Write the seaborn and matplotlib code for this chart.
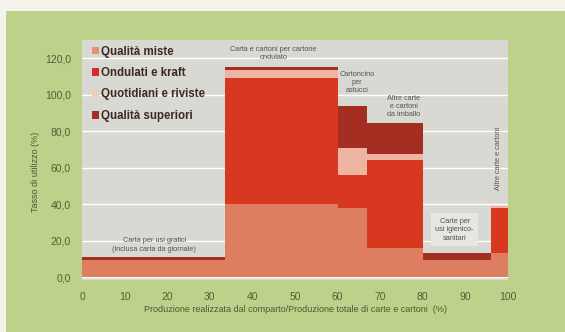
import matplotlib
matplotlib.use("Agg")
from matplotlib import pyplot as plt
from matplotlib.patches import Patch, Rectangle
import seaborn as sns

# comparti (larghezza = quota di produzione, %)
settori = ["Carta per usi grafici", "Carte e cartoni per cartone ondulato",
           "Cartoncino per astucci", "Altre carte e cartoni da imballo",
           "Carte per usi igienico-sanitari", "Altre carte e cartoni"]
inizio = [0, 33.5, 60, 67, 80, 96]
quota = [33.5, 26.5, 7, 13, 16, 4]

# tasso di utilizzo per qualità di macero (%)
miste = [9.5, 40, 38, 16, 9.3, 13]
ondulati = [0, 69, 18, 48, 0, 25]
quotidiani = [0, 4.5, 15, 3.5, 0, 1]
superiori = [1.5, 1.5, 23, 17, 3.7, 0]

serie = ["Qualità miste", "Ondulati e kraft", "Quotidiani e riviste", "Qualità superiori"]
valori = [miste, ondulati, quotidiani, superiori]
colori = ["#dc7e5f", "#d7381f", "#eeb6a2", "#a52e22"]
colori_leg = ["#e8906e", "#d42a30", "#f1cdb8", "#a03028"]

yticks = [0, 20, 40, 60, 80, 100, 120]
xticks = [0, 10, 20, 30, 40, 50, 60, 70, 80, 90, 100]

sns.set_style("white")
plt.rcParams['font.family'] = ['Liberation Sans', 'DejaVu Sans']

fig = plt.figure(figsize=(5.65, 3.32), dpi=100)
fig.patch.set_facecolor("#f6f2ec")
fig.patches.append(Rectangle((6 / 565, 0), 1, 1 - 11 / 332, transform=fig.transFigure,
                             facecolor="#bdd18a", edgecolor="none", zorder=-10))

ax = fig.add_axes([82 / 565, 1 - 280 / 332, 426 / 565, 240 / 332])
ax.set_zorder(2)
ax.set_facecolor("#d8d9d2")

base = [0] * len(settori)
for nome, v, c in zip(serie, valori, colori):
    ax.bar(inizio, v, width=quota, bottom=base, align="edge", color=c,
           edgecolor="none", zorder=3, label=nome)
    base = [b + x for b, x in zip(base, v)]

ax.set_xlim(0, 100)
ax.set_ylim(-1.6, 130)
ax.set_yticks(yticks)
ax.set_yticklabels([f"{t:.1f}".replace(".", ",") for t in yticks])
ax.set_xticks(xticks)
ax.grid(axis="y", color="white", linewidth=1, zorder=1)
ax.grid(axis="x", visible=False)
for s in ax.spines.values():
    s.set_visible(False)
ax.tick_params(axis="y", length=5, color="white", pad=3, labelsize=7.5, labelcolor="#506035")
ax.tick_params(axis="x", length=0, pad=9, labelsize=7.5, labelcolor="#506035")

ax.set_xlabel("Produzione realizzata dal comparto/Produzione totale di carte e cartoni  (%)",
              fontsize=6.5, color="#4a5a32", labelpad=2)
fig.text(36 / 565, 1 - 172 / 332, "Tasso di utilizzo (%)", rotation=90, ha="center",
         va="center", fontsize=6.5, color="#4a5a32")

maniglie = [Patch(facecolor=c, edgecolor="none", label=n) for n, c in zip(serie, colori_leg)]
leg = ax.legend(handles=maniglie, loc="upper left", bbox_to_anchor=(0.0, 1.02), frameon=False,
                handlelength=0.6, handleheight=0.6, handletextpad=0.15, labelspacing=0.82,
                prop={"size": 8.3, "weight": "bold"})
for t in leg.get_texts():
    t.set_color("#3b2a22")

nota = dict(fontsize=5.3, color="#555550", ha="center", va="center", zorder=5)
ax.text(45, 122.5, "Carta e cartoni per cartone\nondulato", linespacing=1.1, **nota)
ax.text(64.5, 106.5, "Cartoncino\nper\nastucci", linespacing=1.2, **nota)
ax.text(75.5, 93.5, "Altre carte\ne cartoni\nda imballo", linespacing=1.2, **nota)
ax.text(17, 17.5, "Carta per usi grafici\n(inclusa carta da giornale)", linespacing=1.3, **nota)
ax.text(87.5, 26, "Carte per\nusi igienico-\nsanitari", linespacing=1.3,
        bbox=dict(facecolor="#e6e7e0", edgecolor="none", pad=3), **nota)
ax.text(97.8, 65, "Altre carte e cartoni", rotation=90, **nota)

fig.savefig("out.png", dpi=100, facecolor=fig.get_facecolor())
